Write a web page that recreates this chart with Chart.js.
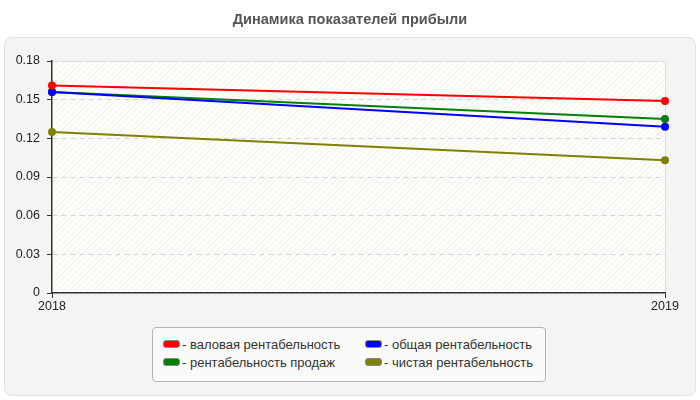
<!DOCTYPE html>
<html>
<head>
<meta charset="utf-8">
<script src="https://cdn.jsdelivr.net/npm/chart.js@4/dist/chart.umd.min.js"></script>
<style>
  html, body { margin: 0; padding: 0; background: #ffffff; }
  #wrap { position: relative; width: 700px; height: 400px; }
  #legend {
    position: absolute; left: 152px; top: 327px; width: 392px; height: 53px;
    border: 1px solid #b4b4b4; border-radius: 4px; background: #fafafa;
    font-family: "Liberation Sans", Arial, sans-serif; font-size: 13px; color: #333;
  }
  .item { position: absolute; white-space: nowrap; line-height: 15px; }
  .sw { display: inline-block; width: 15px; height: 6px; border: 1px solid #888; border-radius: 3px; vertical-align: 1px; margin-right: 2px; }
</style>
</head>
<body>
<div id="wrap">
  <canvas id="c" width="700" height="400"></canvas>
  <div id="legend"></div>
</div>
<script>
const categories = ["2018", "2019"];
const seriesNames = ["валовая рентабельность", "рентабельность продаж", "общая рентабельность", "чистая рентабельность"];
const grossMargin = [0.161, 0.149];
const salesMargin = [0.156, 0.135];
const totalMargin = [0.156, 0.129];
const netMargin = [0.125, 0.103];
const yTicks = [0, 0.03, 0.06, 0.09, 0.12, 0.15, 0.18];
const colors = ["#ff0000", "#008000", "#0000ff", "#808000"];
const seriesValues = [grossMargin, salesMargin, totalMargin, netMargin];
const drawOrder = [0, 2, 1, 3];

const datasets = seriesNames.map((n, i) => ({
  label: n,
  data: seriesValues[i],
  order: drawOrder[i],
  borderColor: colors[i],
  backgroundColor: colors[i],
  borderWidth: 2,
  pointRadius: 3,
  pointHoverRadius: 3,
  fill: false,
  tension: 0
}));

const bgPlugin = {
  id: 'bg',
  beforeDraw(chart) {
    const ctx = chart.ctx;
    const a = chart.chartArea;
    ctx.save();
    const x = 4.5, y = 37.5, w = 691, h = 358, r = 8;
    ctx.beginPath();
    ctx.moveTo(x + r, y);
    ctx.lineTo(x + w - r, y);
    ctx.quadraticCurveTo(x + w, y, x + w, y + r);
    ctx.lineTo(x + w, y + h - r);
    ctx.quadraticCurveTo(x + w, y + h, x + w - r, y + h);
    ctx.lineTo(x + r, y + h);
    ctx.quadraticCurveTo(x, y + h, x, y + h - r);
    ctx.lineTo(x, y + r);
    ctx.quadraticCurveTo(x, y, x + r, y);
    ctx.closePath();
    ctx.fillStyle = '#f4f4f4';
    ctx.fill();
    ctx.strokeStyle = '#e2e2e2';
    ctx.lineWidth = 1;
    ctx.stroke();
    ctx.fillStyle = '#fdfdfa';
    ctx.fillRect(a.left, a.top, a.right - a.left, a.bottom - a.top);
    const tile = document.createElement('canvas');
    tile.width = 6; tile.height = 6;
    const tc = tile.getContext('2d');
    tc.strokeStyle = '#efefeb';
    tc.lineWidth = 1;
    tc.beginPath();
    tc.moveTo(-1, 7); tc.lineTo(7, -1);
    tc.moveTo(-1, 1); tc.lineTo(1, -1);
    tc.moveTo(5, 7); tc.lineTo(7, 5);
    tc.stroke();
    ctx.fillStyle = ctx.createPattern(tile, 'repeat');
    ctx.fillRect(a.left, a.top, a.right - a.left, a.bottom - a.top);
    ctx.strokeStyle = '#dddddd';
    ctx.beginPath();
    ctx.moveTo(a.left, a.top + 0.5);
    ctx.lineTo(a.right + 0.5, a.top + 0.5);
    ctx.lineTo(a.right + 0.5, a.bottom);
    ctx.stroke();
    ctx.fillStyle = '#555555';
    ctx.font = 'bold 14.5px "Liberation Sans", Arial, sans-serif';
    ctx.textAlign = 'center';
    ctx.textBaseline = 'middle';
    ctx.fillText('Динамика показателей прибыли', 350, 20);
    ctx.restore();
  }
};

new Chart(document.getElementById('c'), {
  type: 'line',
  data: { labels: categories, datasets },
  options: {
    responsive: false,
    animation: false,
    devicePixelRatio: 1,
    layout: { padding: { top: 61, right: 35, left: 0, bottom: 0 } },
    plugins: { legend: { display: false }, title: { display: false }, tooltip: { enabled: false } },
    scales: {
      x: {
        type: 'category',
        offset: false,
        afterFit(s) { s.height = 107; },
        border: { display: true, color: '#333333', width: 1.5 },
        grid: { drawOnChartArea: false, drawTicks: true, tickLength: 5, tickColor: '#333333' },
        ticks: { color: '#222', padding: 1, font: { family: '"Liberation Sans", Arial, sans-serif', size: 12.5 }, maxRotation: 0 }
      },
      y: {
        min: 0, max: 0.18,
        afterFit(s) { s.width = 52; },
        afterBuildTicks(s) { s.ticks = yTicks.map(v => ({ value: v })); },
        border: { display: true, color: '#333333', width: 1.5, dash: [5, 4] },
        grid: {
          color: (c) => (c.tick && (c.tick.value === 0 || c.tick.value === 0.18)) ? 'rgba(0,0,0,0)' : '#d4d4d4',
          tickBorderDash: [1, 0],
          tickColor: '#333333',
          tickLength: 5
        },
        ticks: {
          color: '#222', padding: 7,
          font: { family: '"Liberation Sans", Arial, sans-serif', size: 12.5 },
          callback: (v) => v === 0 ? '0' : v.toFixed(2)
        }
      }
    }
  },
  plugins: [bgPlugin]
});

const legend = document.getElementById('legend');
const pos = [[10, 9], [10, 27], [212, 9], [212, 27]];
seriesNames.forEach((n, i) => {
  const d = document.createElement('div');
  d.className = 'item';
  d.style.left = pos[i][0] + 'px';
  d.style.top = pos[i][1] + 'px';
  d.innerHTML = '<span class="sw" style="background:' + colors[i] + '"></span>- ' + n;
  legend.appendChild(d);
});
</script>
</body>
</html>
